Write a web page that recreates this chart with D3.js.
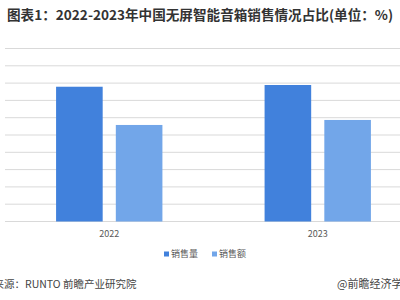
<!DOCTYPE html>
<html lang="zh">
<head>
<meta charset="UTF-8">
<title>chart</title>
<script src="https://d3js.org/d3.v7.min.js"></script>
<style>
  body { margin: 0; background: #fff; }
  svg { display: block; font-family: "Noto Sans CJK SC", "Noto Sans", sans-serif; }
</style>
</head>
<body>
<svg id="chart" width="400" height="300"></svg>
<script>
// data (percent)
const years = ["2022", "2023"];
const seriesNames = ["销售量", "销售额"];
const volume = [77.9, 78.9];
const amount = [55.8, 58.7];
const yTicks = d3.range(0, 101, 10);

const colors = ["#4181DC", "#72A6E9"];
const W = 400, H = 300;
const m = {l: 5, r: -22, t: 48.5, b: 78.5};

const svg = d3.select('#chart');

// title
svg.append('text')
    .attr('x', 7).attr('y', 20)
    .attr('font-size', 13.6).attr('font-weight', 'bold')
    .attr('fill', '#333')
    .text('图表1：2022-2023年中国无屏智能音箱销售情况占比(单位：%)');

const x0 = d3.scaleBand().domain(years).range([m.l, W - m.r]);
const bw = x0.bandwidth();
const x1 = d3.scaleBand().domain(seriesNames)
    .range([bw * 0.245, bw * 0.755]).paddingInner(0.22);
const y = d3.scaleLinear().domain([0, 100]).range([H - m.b, m.t]);

// gridlines
svg.append('g').selectAll('line').data(yTicks)
    .join('line')
    .attr('x1', m.l).attr('x2', W)
    .attr('y1', d => y(d)).attr('y2', d => y(d))
    .attr('stroke', '#D9D9D9').attr('stroke-width', 1);

const rows = years.map((yr, i) => ({year: yr, vals: [volume[i], amount[i]]}));
svg.append('g').selectAll('g').data(rows)
    .join('g')
    .attr('transform', d => `translate(${x0(d.year)},0)`)
    .selectAll('rect').data(d => d.vals.map((v, k) => ({k, v})))
    .join('rect')
    .attr('x', d => x1(seriesNames[d.k]))
    .attr('width', x1.bandwidth())
    .attr('y', d => y(d.v))
    .attr('height', d => y(0) - y(d.v))
    .attr('fill', d => colors[d.k]);

// category labels
svg.append('g').selectAll('text').data(years)
    .join('text')
    .attr('x', d => x0(d) + bw / 2)
    .attr('y', 236.5)
    .attr('text-anchor', 'middle')
    .attr('font-size', 9).attr('fill', '#595959')
    .text(d => d);

// legend
const lg = svg.append('g').selectAll('g').data(seriesNames)
    .join('g')
    .attr('transform', (d, i) => `translate(${164 + i * 48},254)`);
lg.append('rect').attr('x', 0).attr('y', -2.5).attr('width', 5).attr('height', 5)
    .attr('fill', (d, i) => colors[i]);
lg.append('text').attr('x', 7).attr('y', 3.3)
    .attr('font-size', 9).attr('fill', '#595959')
    .text(d => d);

// footer (cropped at the edges, as in the source image)
svg.append('text').attr('x', -27.5).attr('y', 288)
    .attr('font-size', 10.5).attr('fill', '#444')
    .text('数据来源：RUNTO 前瞻产业研究院');
svg.append('text').attr('x', 337).attr('y', 288)
    .attr('font-size', 11).attr('fill', '#444')
    .text('@前瞻经济学人');
</script>
</body>
</html>
